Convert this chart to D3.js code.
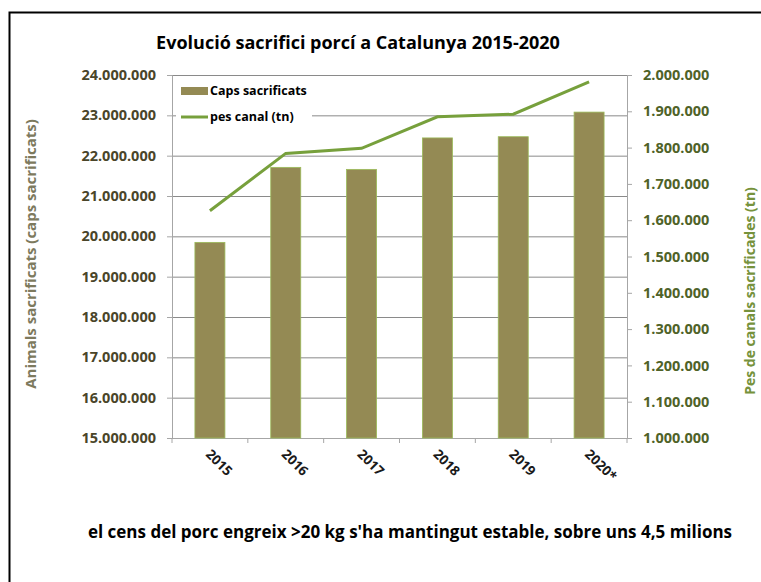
<!DOCTYPE html>
<html>
<head>
<meta charset="utf-8">
<script src="https://cdn.jsdelivr.net/npm/d3@7"></script>
<style>
  body { margin: 0; background: #fff; }
  text { font-family: "Open Sans", sans-serif; font-weight: bold; }
</style>
</head>
<body>
<svg></svg>
<script>
// Data
const years = ["2015", "2016", "2017", "2018", "2019", "2020*"];
const capsSacrificats = [19850000, 21710000, 21660000, 22440000, 22470000, 23080000];
const pesCanal = [1626000, 1784000, 1798000, 1885000, 1892000, 1981000];
const leftTicks = [15e6, 16e6, 17e6, 18e6, 19e6, 20e6, 21e6, 22e6, 23e6, 24e6];
const rightTicks = [1e6, 1.1e6, 1.2e6, 1.3e6, 1.4e6, 1.5e6, 1.6e6, 1.7e6, 1.8e6, 1.9e6, 2e6];

const fmt = d3.formatLocale({ decimal: ",", thousands: ".", grouping: [3], currency: ["", "€"] }).format(",.0f");

// Plot sizes
const W = 761, H = 582;
const plot = { l: 172, r: 627, t: 75, b: 438 };

const svg = d3.select("svg")
  .attr("width", W)
  .attr("height", H);

// frame
svg.append("rect")
  .attr("x", 9.5).attr("y", 12.5)
  .attr("width", 780).attr("height", 620)
  .attr("fill", "none")
  .attr("stroke", "#000")
  .attr("stroke-width", 2);

// scales
const x = d3.scaleBand()
  .domain(years)
  .range([plot.l, plot.r]);

const yL = d3.scaleLinear()
  .domain([15e6, 24e6])
  .range([plot.b, plot.t]);

const yR = d3.scaleLinear()
  .domain([1e6, 2e6])
  .range([plot.b, plot.t]);

// grid
svg.append("g")
  .attr("class", "grid")
  .attr("transform", `translate(${plot.l}, 0)`)
  .call(d3.axisLeft(yL).tickValues(leftTicks).tickSize(-(plot.r - plot.l)).tickFormat(""))
  .call(g => g.select(".domain").remove())
  .call(g => g.selectAll("line").attr("stroke", "#8a8a8a"));

// left axis
svg.append("g")
  .attr("transform", `translate(${plot.l}, 0)`)
  .call(d3.axisLeft(yL).tickValues(leftTicks).tickSize(5).tickPadding(11).tickFormat(fmt))
  .call(g => g.select(".domain").attr("stroke", "#a6a6a6"))
  .call(g => g.selectAll("line").attr("stroke", "#a6a6a6"))
  .call(g => g.selectAll("text")
    .attr("font-size", 14.5)
    .attr("font-family", "Open Sans")
    .attr("font-weight", "bold")
    .attr("fill", "#4a4529"));

// right axis
svg.append("g")
  .attr("transform", `translate(${plot.r}, 0)`)
  .call(d3.axisRight(yR).tickValues(rightTicks).tickSize(5).tickPadding(11).tickFormat(fmt))
  .call(g => g.select(".domain").attr("stroke", "#a6a6a6"))
  .call(g => g.selectAll("line").attr("stroke", "#a6a6a6"))
  .call(g => g.selectAll("text")
    .attr("font-size", 14.5)
    .attr("font-family", "Open Sans")
    .attr("font-weight", "bold")
    .attr("fill", "#4f6228"));

// bottom axis
svg.append("g")
  .attr("transform", `translate(0, ${plot.b})`)
  .call(d3.axisBottom(x).tickSize(0).tickFormat(""))
  .call(g => g.select(".domain").attr("stroke", "#a6a6a6"));

// category boundary ticks
svg.append("g")
  .selectAll("line")
  .data(years.concat(["end"]))
  .enter()
  .append("line")
    .attr("x1", (d, i) => plot.l + i * x.step())
    .attr("x2", (d, i) => plot.l + i * x.step())
    .attr("y1", plot.b)
    .attr("y2", plot.b + 5)
    .attr("stroke", "#a6a6a6");

// x labels
svg.append("g")
  .selectAll("text")
  .data(years)
  .enter()
  .append("text")
    .attr("transform", d => `translate(${x(d) + x.bandwidth() / 2 - 5}, ${plot.b + 17}) rotate(45)`)
    .attr("font-size", 13.5)
    .attr("fill", "#1a1a1a")
    .text(d => d);

// bars
const barW = 30;
svg.append("g")
  .selectAll("rect")
  .data(capsSacrificats)
  .enter()
  .append("rect")
    .attr("x", (d, i) => x(years[i]) + x.bandwidth() / 2 - barW / 2)
    .attr("y", d => yL(d))
    .attr("width", barW)
    .attr("height", d => plot.b - yL(d))
    .attr("fill", "#948a54")
    .attr("stroke", "#9bbb59")
    .attr("stroke-width", 0.8);

// line
const line = d3.line()
  .x((d, i) => x(years[i]) + x.bandwidth() / 2)
  .y(d => yR(d));

svg.append("path")
  .datum(pesCanal)
  .attr("d", line)
  .attr("fill", "none")
  .attr("stroke", "#77a03c")
  .attr("stroke-width", 3);

// legend
const lg = svg.append("g");
lg.append("rect")
  .attr("x", 176).attr("y", 77)
  .attr("width", 136).attr("height", 50)
  .attr("fill", "#fff");
lg.append("rect")
  .attr("x", 181).attr("y", 87)
  .attr("width", 27).attr("height", 8)
  .attr("fill", "#948a54");
lg.append("text")
  .attr("x", 210).attr("y", 95)
  .attr("font-size", 12.5)
  .attr("fill", "#000")
  .text("Caps sacrificats");
lg.append("line")
  .attr("x1", 181).attr("x2", 208)
  .attr("y1", 117).attr("y2", 117)
  .attr("stroke", "#77a03c")
  .attr("stroke-width", 3);
lg.append("text")
  .attr("x", 210).attr("y", 121)
  .attr("font-size", 12.5)
  .attr("fill", "#000")
  .text("pes canal (tn)");

// title
svg.append("text")
  .attr("x", 358).attr("y", 49)
  .attr("text-anchor", "middle")
  .attr("font-size", 18)
  .attr("fill", "#000")
  .text("Evolució sacrifici porcí a Catalunya 2015-2020");

// axis titles
svg.append("text")
  .attr("transform", "translate(36, 254) rotate(-90)")
  .attr("text-anchor", "middle")
  .attr("font-size", 15)
  .attr("fill", "#7d7a5e")
  .text("Animals sacrificats (caps sacrificats)");

svg.append("text")
  .attr("transform", "translate(755, 291) rotate(-90)")
  .attr("text-anchor", "middle")
  .attr("font-size", 14)
  .attr("fill", "#76923c")
  .text("Pes de canals sacrificades (tn)");

// footnote
svg.append("text")
  .attr("x", 410).attr("y", 538)
  .attr("text-anchor", "middle")
  .attr("font-size", 17)
  .attr("fill", "#000")
  .text("el cens del porc engreix >20 kg s'ha mantingut estable, sobre uns 4,5 milions");
</script>
</body>
</html>
